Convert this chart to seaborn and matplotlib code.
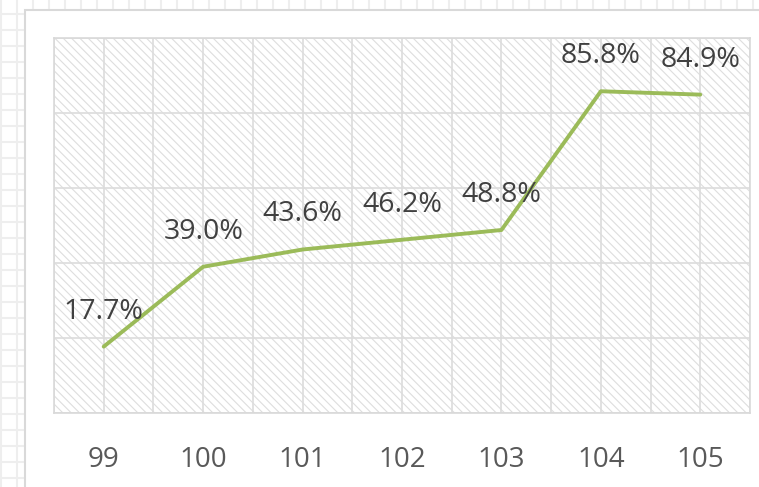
import numpy as np
import pandas as pd
import matplotlib
matplotlib.use('Agg')
import matplotlib.pyplot as plt
from matplotlib.patches import Rectangle
import seaborn as sns

# Data
categories = [99, 100, 101, 102, 103, 104, 105]
values = [0.177, 0.390, 0.436, 0.462, 0.488, 0.858, 0.849]
labels = ['17.7%', '39.0%', '43.6%', '46.2%', '48.8%', '85.8%', '84.9%']

df = pd.DataFrame({'category': categories, 'value': values})

sns.set_style('white')
plt.rcParams['font.family'] = ['Open Sans', 'DejaVu Sans']
plt.rcParams['hatch.linewidth'] = 0.8
plt.rcParams['hatch.color'] = '#dedede'

W, H = 759, 487
fig = plt.figure(figsize=(W / 100, H / 100), dpi=100)
fig.patch.set_facecolor('white')

# Spreadsheet cell grid behind the chart
bg = fig.add_axes([0, 0, 1, 1])
bg.set_xlim(0, W)
bg.set_ylim(H, 0)
bg.axis('off')
for gx in np.arange(1, W, 16):
    bg.axvline(gx, color='#eeeeee', lw=1.5, zorder=0)
for gy in np.arange(13.5, H, 16):
    bg.axhline(gy, color='#eeeeee', lw=1.5, zorder=0)
bg.add_patch(Rectangle((25, 10), W, H, facecolor='white',
                       edgecolor='#d9d9d9', lw=1.5, zorder=1))

# Plot area
left, right, top, bottom = 54, 750, 38, 413
ax = fig.add_axes([left / W, 1 - bottom / H, (right - left) / W, (bottom - top) / H])
ax.set_facecolor('white')
ax.add_patch(Rectangle((0, 0), 1, 1, transform=ax.transAxes, facecolor='white',
                       edgecolor='#dedede', hatch='\\\\\\\\', lw=0, zorder=0))

sns.lineplot(data=df, x='category', y='value', ax=ax, color='#9bbb59',
             lw=2.8, solid_capstyle='round', zorder=3)

ax.set_xlim(98.5, 105.5)
ax.set_ylim(0, 1.0)
ax.set_xticks(categories)
ax.set_xticks(np.arange(98.5, 106, 1), minor=True)
ax.set_yticks(np.arange(0, 1.01, 0.2))
ax.set_yticklabels([])
ax.grid(True, which='both', color='#dcdcdc', lw=1.2, zorder=1)
ax.set_axisbelow(True)
ax.tick_params(axis='both', which='both', length=0)
ax.tick_params(axis='x', pad=24, labelsize=20, labelcolor='#595959')
ax.set_xlabel('')
ax.set_ylabel('')
for s in ax.spines.values():
    s.set_color('#d9d9d9')
    s.set_linewidth(1.2)

for x, v, t in zip(categories, values, labels):
    ax.annotate(t, xy=(x, v), xytext=(0, 35), textcoords='offset pixels',
                ha='center', va='center', fontsize=20.5, color='#404040', zorder=4)

fig.savefig('out.png', dpi=100)
